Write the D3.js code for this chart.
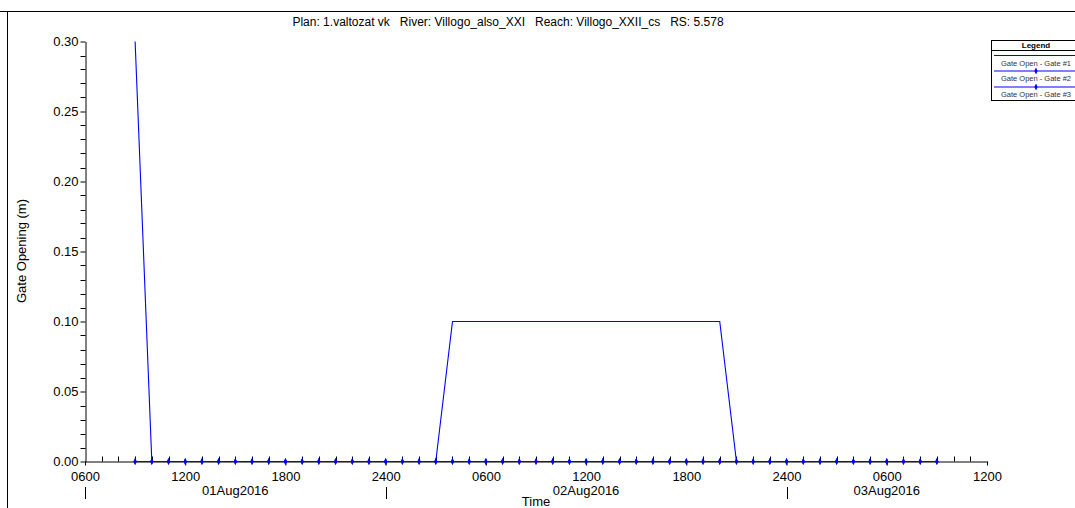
<!DOCTYPE html>
<html><head><meta charset="utf-8">
<script src="https://cdn.jsdelivr.net/npm/d3@7"></script>
<style>body{margin:0;background:#fff}svg{display:block;font-family:"Liberation Sans",Arial,sans-serif}</style>
</head><body><svg id="c" width="1075" height="508"></svg>
<script>
const titleText = "Plan: 1.valtozat vk   River: Villogo_also_XXI   Reach: Villogo_XXII_cs   RS: 5.578";
const seriesNames = ["Gate Open - Gate #1", "Gate Open - Gate #2", "Gate Open - Gate #3"];
// hourly from 01Aug2016 0900 to 03Aug2016 0900
const startTime = "2016-08-01T09:00:00";
const gate1 = [0.30,0,0,0,0,0,0,0,0,0,0,0,0,0,0,0,0,0,0,0.10,0.10,0.10,0.10,0.10,0.10,0.10,0.10,0.10,0.10,0.10,0.10,0.10,0.10,0.10,0.10,0.10,0,0,0,0,0,0,0,0,0,0,0,0,0];
const gate2 = [0,0,0,0,0,0,0,0,0,0,0,0,0,0,0,0,0,0,0,0,0,0,0,0,0,0,0,0,0,0,0,0,0,0,0,0,0,0,0,0,0,0,0,0,0,0,0,0,0];
const gate3 = [0,0,0,0,0,0,0,0,0,0,0,0,0,0,0,0,0,0,0,0,0,0,0,0,0,0,0,0,0,0,0,0,0,0,0,0,0,0,0,0,0,0,0,0,0,0,0,0,0];
const yTicks = [0, 0.05, 0.10, 0.15, 0.20, 0.25, 0.30];
const dayLabels = ["01Aug2016", "02Aug2016", "03Aug2016"];
const yLabel = "Gate Opening (m)";
const xLabel = "Time";

const svg = d3.select("#c");
const t0 = new Date(startTime);
const times = gate1.map((_, i) => new Date(t0.getTime() + i * 3600e3));
const xDomain = [new Date("2016-08-01T06:00:00"), new Date("2016-08-03T12:00:00")];
const x = d3.scaleTime().domain(xDomain).range([85, 987]);
const y = d3.scaleLinear().domain([0, 0.30]).range([461.5, 41.5]);

// frame
svg.append("line").attr("x1", 0).attr("x2", 1075).attr("y1", 11.5).attr("y2", 11.5).attr("stroke", "#000");
svg.append("line").attr("x1", 7.5).attr("x2", 7.5).attr("y1", 11.5).attr("y2", 508).attr("stroke", "#000");

svg.append("text").attr("x", 508).attr("y", 26).attr("text-anchor", "middle").attr("font-size", 12)
  .attr("fill", "#000").style("white-space", "pre").text(titleText);

// y axis
const yAxis = d3.axisLeft(y).tickValues(yTicks).tickFormat(d3.format(".2f")).tickSize(5).tickSizeOuter(0);
const gy = svg.append("g").attr("transform", "translate(85.5,0)").call(yAxis);
gy.selectAll("text").attr("font-size", 13).attr("font-family", "Liberation Sans, Arial").attr("fill", "#000").attr("x", -7);
gy.select(".domain").attr("stroke", "#000");
const yMinor = d3.range(0, 31).map(i => i / 100).filter(v => Math.round(v * 100) % 5 !== 0);
gy.selectAll(".minor").data(yMinor).enter().append("line").attr("class", "minor")
  .attr("x1", -5).attr("x2", 0).attr("y1", d => Math.round(y(d)) + 0.5).attr("y2", d => Math.round(y(d)) + 0.5).attr("stroke", "#000");

// x axis
const majorTicks = d3.timeHour.every(6).range(xDomain[0], new Date(xDomain[1].getTime() + 1));
const fmt = d => { const h = d.getHours(); return (h === 0 ? "24" : d3.format("02")(h)) + "00"; };
const xAxis = d3.axisBottom(x).tickValues(majorTicks).tickFormat(fmt).tickSize(4).tickSizeOuter(0);
const gx = svg.append("g").attr("transform", "translate(0,461.5)").call(xAxis);
gx.selectAll("text").attr("font-size", 13).attr("font-family", "Liberation Sans, Arial").attr("fill", "#000").attr("dy", 0).attr("y", 19);
gx.select(".domain").attr("stroke", "#000");
const minorTicks = d3.timeHour.every(1).range(xDomain[0], xDomain[1]).filter(d => d.getHours() % 6 !== 0);
gx.selectAll(".minor").data(minorTicks).enter().append("line").attr("class", "minor")
  .attr("x1", d => Math.round(x(d)) + 0.5).attr("x2", d => Math.round(x(d)) + 0.5).attr("y1", 0).attr("y2", -5).attr("stroke", "#000");

// day separators and labels
const dayBounds = [xDomain[0], new Date("2016-08-02T00:00:00"), new Date("2016-08-03T00:00:00"), xDomain[1]];
dayLabels.forEach((lab, i) => {
  const a = x(dayBounds[i]), b = x(dayBounds[i + 1]);
  svg.append("text").attr("x", (a + b) / 2).attr("y", 495).attr("text-anchor", "middle").attr("font-size", 13).attr("fill", "#000").text(lab);
  svg.append("line").attr("x1", Math.round(a) + 0.5).attr("x2", Math.round(a) + 0.5).attr("y1", 487).attr("y2", 499).attr("stroke", "#000");
});

svg.append("text").attr("x", 536).attr("y", 506).attr("text-anchor", "middle").attr("font-size", 13).attr("fill", "#000").text(xLabel);
svg.append("text").attr("transform", "translate(26,251) rotate(-90)").attr("text-anchor", "middle").attr("font-size", 13).attr("fill", "#000").text(yLabel);

// series
const line = d3.line().x((d, i) => x(times[i])).y(d => y(d));
const blue = "#0000ff";
const marker = d3.symbol().type(d3.symbolDiamond).size(9);
svg.append("path").datum(gate1).attr("d", line).attr("fill", "none").attr("stroke", blue).attr("stroke-width", 1.1);
[gate2, gate3].forEach(s => {
  svg.append("path").datum(s).attr("d", line).attr("fill", "none").attr("stroke", blue).attr("stroke-width", 1.1);
  svg.append("g").selectAll("path").data(s).enter().append("path")
    .attr("d", marker)
    .attr("transform", (d, i) => `translate(${x(times[i])},${y(d)}) scale(1,1.25)`).attr("fill", blue);
});

// legend
const lg = svg.append("g");
lg.append("rect").attr("x", 991.5).attr("y", 40.5).attr("width", 90).attr("height", 60).attr("fill", "#fff").attr("stroke", "#000");
lg.append("text").attr("x", 1036).attr("y", 47.5).attr("text-anchor", "middle").attr("font-size", 8).attr("font-weight", "bold").attr("fill", "#000").text("Legend");
lg.append("line").attr("x1", 991.5).attr("x2", 1075).attr("y1", 50.5).attr("y2", 50.5).attr("stroke", "#000");
const lineYs = [55.5, 71, 87];
const textYs = [65.5, 81, 96.5];
seriesNames.forEach((n, i) => {
  lg.append("line").attr("x1", 994).attr("x2", 1075).attr("y1", lineYs[i]).attr("y2", lineYs[i]).attr("stroke", blue).attr("stroke-width", 1.1);
  if (i > 0) lg.append("path").attr("d", marker)
    .attr("transform", `translate(1036,${lineYs[i]}) scale(1,1.25)`).attr("fill", blue);
  lg.append("text").attr("x", 1036).attr("y", textYs[i]).attr("text-anchor", "middle").attr("font-size", 7.5).attr("fill", "#333").text(n);
});
</script></body></html>
